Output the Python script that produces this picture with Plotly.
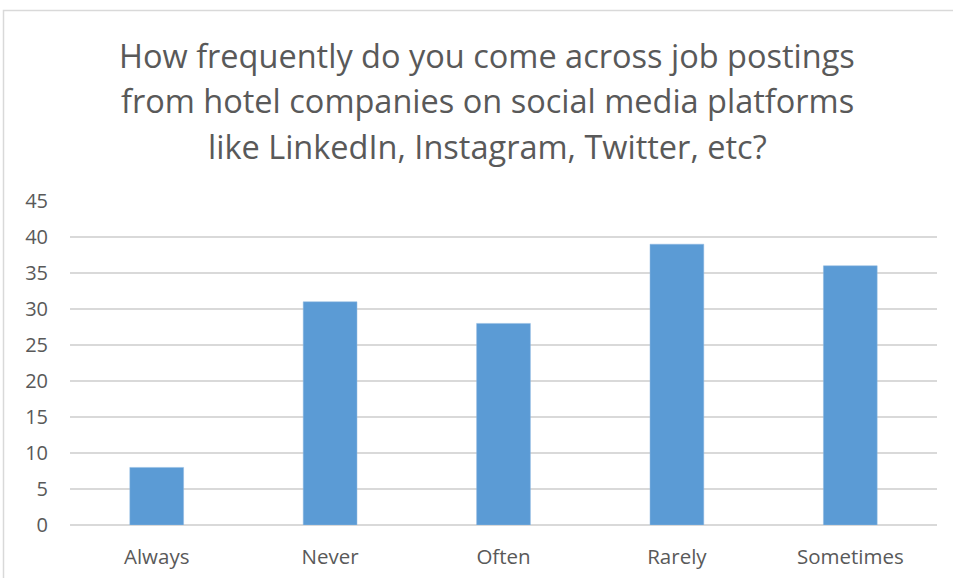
import plotly.graph_objects as go

categories = ["Always", "Never", "Often", "Rarely", "Sometimes"]
counts = [8, 31, 28, 39, 36]
y_ticks = [0, 5, 10, 15, 20, 25, 30, 35, 40, 45]

title_lines = [
    "How frequently do you come across job postings",
    "from hotel companies on social media platforms",
    "like LinkedIn, Instagram, Twitter, etc?",
]
title_line_y = [55, 101, 147]  # pixel centres of the title lines

W, H = 953, 578
L, R, T, B = 70, 16, 201, 53
plot_w = W - L - R
plot_h = H - T - B

text_color = "#595959"
grid_color = "#d9d9d9"
font_family = "'Open Sans', sans-serif"

fig = go.Figure(
    go.Bar(
        x=categories,
        y=counts,
        marker=dict(color="#5b9bd5", line=dict(color="#8fb8e0", width=0.5)),
        hoverinfo="x+y",
    )
)


def px_x(v):
    return (v - L) / plot_w


def px_y(v):
    return (H - B - v) / plot_h


annotations = [
    dict(
        text=line,
        xref="paper",
        yref="paper",
        x=px_x(487),
        y=px_y(yc),
        xanchor="center",
        yanchor="middle",
        showarrow=False,
        font=dict(size=32.5, color=text_color, family=font_family),
    )
    for line, yc in zip(title_lines, title_line_y)
]

fig.update_layout(
    width=W,
    height=H,
    margin=dict(l=L, r=R, t=T, b=B),
    paper_bgcolor="white",
    plot_bgcolor="white",
    bargap=0.69,
    showlegend=False,
    font=dict(family=font_family, color=text_color, size=20),
    annotations=annotations,
    xaxis=dict(
        showgrid=False,
        showline=False,
        ticks="",
        tickfont=dict(size=20.5, color=text_color),
        ticklabelstandoff=17,
        automargin=False,
        fixedrange=True,
    ),
    yaxis=dict(
        range=[0, 45],
        tickvals=y_ticks,
        showgrid=True,
        gridcolor=grid_color,
        gridwidth=1.5,
        zeroline=True,
        zerolinecolor=grid_color,
        zerolinewidth=1.5,
        showline=False,
        ticks="",
        tickfont=dict(size=20, color=text_color),
        ticklabelstandoff=21,
        automargin=False,
        fixedrange=True,
    ),
    shapes=[
        dict(
            type="rect",
            xref="paper",
            yref="paper",
            x0=px_x(3.5),
            x1=px_x(W + 10),
            y0=px_y(H + 10),
            y1=px_y(10.5),
            line=dict(color=grid_color, width=1.5),
            fillcolor="rgba(0,0,0,0)",
            layer="below",
        )
    ],
)

fig.write_html("out.html")
